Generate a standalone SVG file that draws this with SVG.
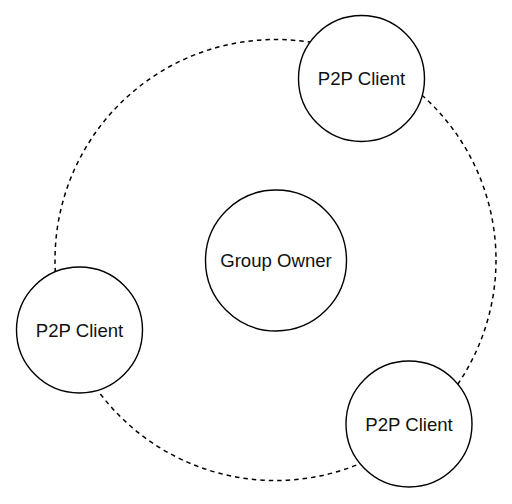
<svg xmlns="http://www.w3.org/2000/svg" width="512" height="504" viewBox="0 0 512 504">
<style>
.n{fill:#fff;stroke:#000;stroke-width:1.4}
.t{font-family:"Liberation Sans",Arial,sans-serif;font-size:18.6px;fill:#111;text-anchor:middle;dominant-baseline:central}
.d{fill:none;stroke:#000;stroke-width:1.5;stroke-dasharray:4.5 4}
</style>
<rect width="512" height="504" fill="#fff"/>
<g id="connectors">
<circle class="d" cx="275.5" cy="260" r="220.5"/>
</g>
<g id="group-owner">
<circle class="n" cx="276" cy="260.5" r="70.5"/>
<text class="t" x="276" y="260.5">Group Owner</text>
</g>
<g id="client-top">
<circle class="n" cx="361.5" cy="78.5" r="63"/>
<text class="t" x="361.5" y="78.5">P2P Client</text>
</g>
<g id="client-left">
<circle class="n" cx="79.5" cy="330" r="63"/>
<text class="t" x="79.5" y="330">P2P Client</text>
</g>
<g id="client-bottom">
<circle class="n" cx="409" cy="424" r="63"/>
<text class="t" x="409" y="424">P2P Client</text>
</g>
</svg>
